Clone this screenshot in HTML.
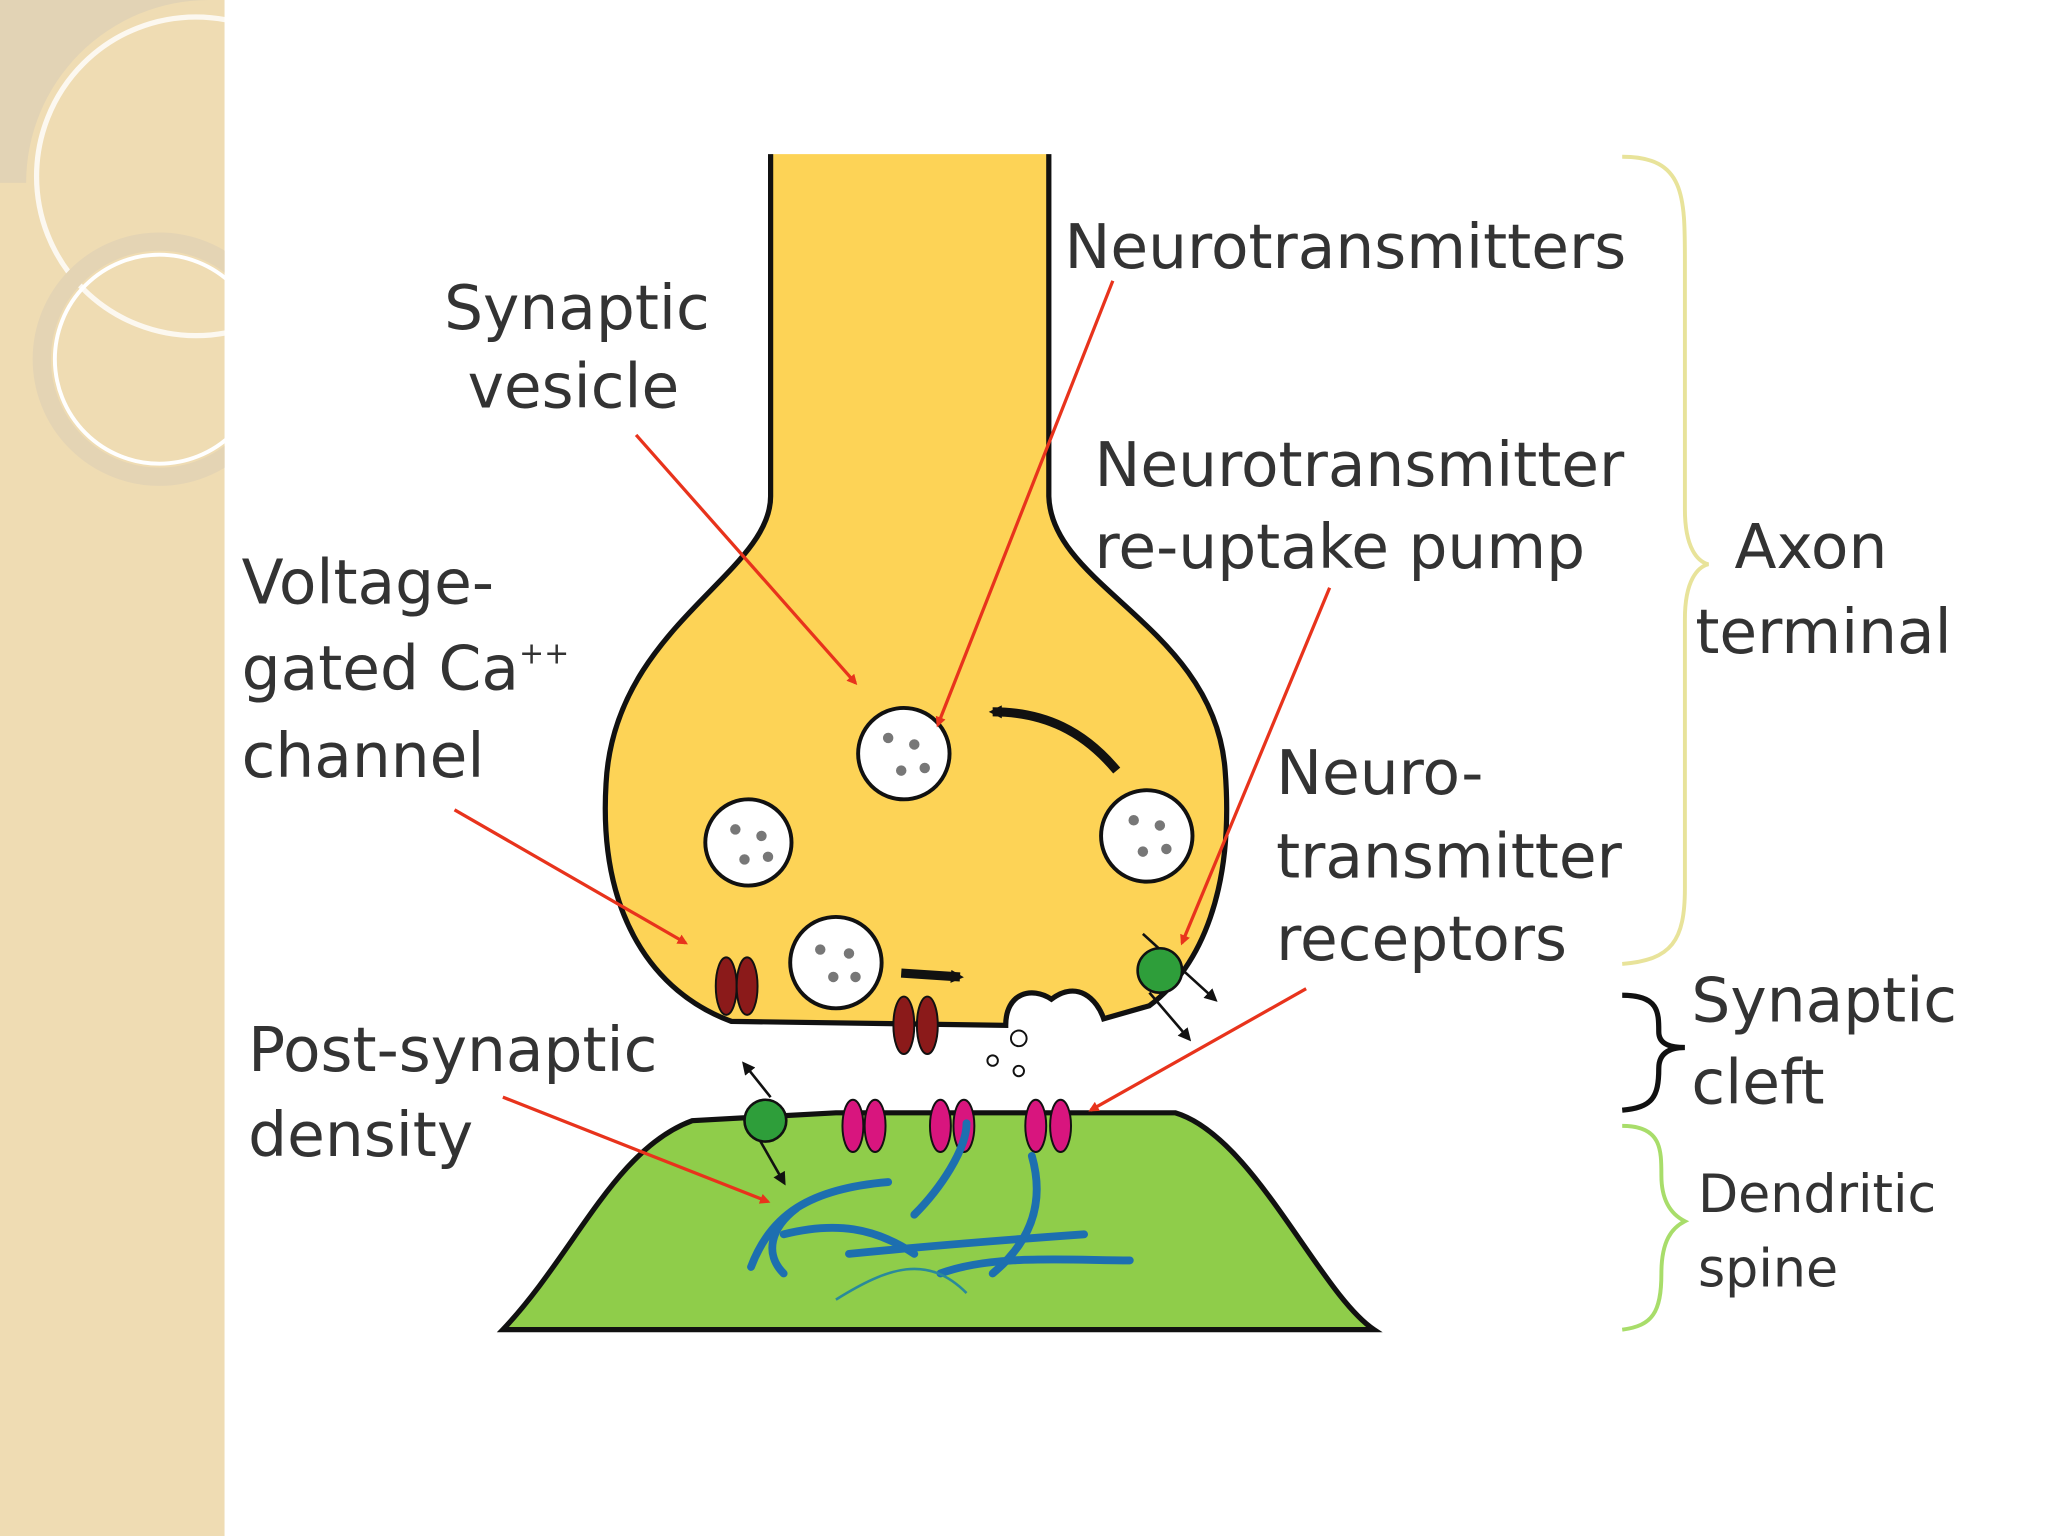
<!DOCTYPE html>
<html><head><style>html,body{margin:0;padding:0;background:#fff}svg{display:block}</style></head>
<body>
<svg width="2048" height="1536" viewBox="0 0 1568 1176" xmlns="http://www.w3.org/2000/svg" font-family="'DejaVu Sans','Liberation Sans',sans-serif">
<defs>
<marker id="ar" markerWidth="8" markerHeight="8" refX="6" refY="4" orient="auto" markerUnits="userSpaceOnUse"><path d="M0,0 L8,4 L0,8 z" fill="#e8331c"/></marker>
<marker id="ab" markerWidth="10" markerHeight="10" refX="7" refY="5" orient="auto" markerUnits="userSpaceOnUse"><path d="M0,0 L10,5 L0,10 z" fill="#111"/></marker>
</defs>
<rect width="1568" height="1176" fill="#fff"/>
<rect x="0" y="0" width="172" height="1176" fill="#efdcb3"/>
<path d="M0,0 H160 A140,140 0 0 0 20,140 H0 z" fill="#d9cdb6" opacity="0.6"/>
<circle cx="150" cy="135" r="122" fill="none" stroke="#fff" stroke-width="4" opacity="0.8"/>
<circle cx="122" cy="275" r="90" fill="none" stroke="#e4d4b4" stroke-width="14"/>
<circle cx="122" cy="275" r="80" fill="none" stroke="#fff" stroke-width="3"/>
<rect x="172" y="0" width="1396" height="1176" fill="#fff"/>
<!-- dendrite -->
<path d="M385,1018 C440,960 470,880 530,858 L640,852 L900,852 C960,870 1010,990 1052,1018 Z" fill="#8fcd4a" stroke="#111" stroke-width="4"/>
<!-- axon -->
<path d="M590,118 L590,380 C590,440 470,480 464,600 C458,700 500,760 560,782 L770,785 C770,760 790,755 805,765 C825,750 840,765 845,780 L880,770 C920,740 945,680 938,590 C930,480 805,450 803,380 L803,118" fill="#fdd356" stroke="#111" stroke-width="4"/>
<!-- vesicles -->
<g fill="#fff" stroke="#111" stroke-width="3">
<circle cx="692" cy="577" r="35"/><circle cx="573" cy="645" r="33"/><circle cx="878" cy="640" r="35"/><circle cx="640" cy="737" r="35"/>
<circle cx="780" cy="795" r="6" stroke-width="1.5"/><circle cx="760" cy="812" r="4" stroke-width="1.5"/><circle cx="780" cy="820" r="4" stroke-width="1.5"/>
</g>
<g fill="#777"><circle cx="680" cy="565" r="4"/><circle cx="700" cy="570" r="4"/><circle cx="690" cy="590" r="4"/><circle cx="708" cy="588" r="4"/>
<circle cx="563" cy="635" r="4"/><circle cx="583" cy="640" r="4"/><circle cx="570" cy="658" r="4"/><circle cx="588" cy="656" r="4"/>
<circle cx="868" cy="628" r="4"/><circle cx="888" cy="632" r="4"/><circle cx="875" cy="652" r="4"/><circle cx="893" cy="650" r="4"/>
<circle cx="628" cy="727" r="4"/><circle cx="650" cy="730" r="4"/><circle cx="638" cy="748" r="4"/><circle cx="655" cy="748" r="4"/></g>
<!-- black arrows -->
<path d="M855,590 C830,560 800,545 760,545" fill="none" stroke="#111" stroke-width="7" marker-end="url(#ab)"/>
<path d="M690,745 L735,748" stroke="#111" stroke-width="7" marker-end="url(#ab)"/>
<line x1="875" y1="715" x2="930" y2="765" stroke="#111" stroke-width="2" marker-end="url(#ab)"/>
<line x1="880" y1="760" x2="910" y2="795" stroke="#111" stroke-width="2" marker-end="url(#ab)"/>
<line x1="590" y1="840" x2="570" y2="815" stroke="#111" stroke-width="2" marker-end="url(#ab)"/>
<line x1="580" y1="870" x2="600" y2="905" stroke="#111" stroke-width="2" marker-end="url(#ab)"/>
<!-- channels -->
<g fill="#8b1a1a" stroke="#111" stroke-width="1.5">
<ellipse cx="556" cy="755" rx="8" ry="22"/><ellipse cx="572" cy="755" rx="8" ry="22"/>
<ellipse cx="692" cy="785" rx="8" ry="22"/><ellipse cx="710" cy="785" rx="8" ry="22"/></g>
<g fill="#d8157e" stroke="#111" stroke-width="1.5">
<ellipse cx="653" cy="862" rx="8" ry="20"/><ellipse cx="670" cy="862" rx="8" ry="20"/>
<ellipse cx="720" cy="862" rx="8" ry="20"/><ellipse cx="738" cy="862" rx="8" ry="20"/>
<ellipse cx="793" cy="862" rx="8" ry="20"/><ellipse cx="812" cy="862" rx="8" ry="20"/></g>
<circle cx="888" cy="743" r="17" fill="#2e9e3a" stroke="#111" stroke-width="2"/>
<circle cx="586" cy="858" r="16" fill="#2e9e3a" stroke="#111" stroke-width="2"/>
<!-- cytoskeleton -->
<g fill="none" stroke="#1d6fb0" stroke-width="6" stroke-linecap="round">
<path d="M575,970 C590,930 620,910 680,905"/><path d="M600,945 C640,935 670,940 700,960"/>
<path d="M650,960 C700,955 760,950 830,945"/><path d="M700,930 C720,910 740,880 740,860"/>
<path d="M760,975 C790,950 800,920 790,885"/><path d="M720,975 C760,960 820,965 865,965"/>
<path d="M610,925 C590,940 585,960 600,975"/></g>
<path d="M640,995 C680,970 710,960 740,990" stroke="#2a8a9a" stroke-width="2" fill="none"/>
<!-- red pointers -->
<g stroke="#e8331c" stroke-width="2.5" fill="none" marker-end="url(#ar)">
<line x1="487" y1="333" x2="655" y2="523"/>
<line x1="852" y1="215" x2="718" y2="555"/>
<line x1="1018" y1="450" x2="905" y2="722"/>
<line x1="348" y1="620" x2="525" y2="722"/>
<line x1="1000" y1="757" x2="835" y2="850"/>
<line x1="385" y1="840" x2="588" y2="920"/></g>
<!-- braces -->
<path d="M1242,120 C1290,120 1290,150 1290,200 L1290,390 C1290,420 1300,430 1308,432 C1300,434 1290,444 1290,474 L1290,680 C1290,720 1280,735 1242,738" fill="none" stroke="#e8e39a" stroke-width="3"/>
<path d="M1242,762 C1270,762 1270,775 1270,790 C1270,800 1280,802 1290,802 C1280,802 1270,805 1270,818 C1270,840 1265,848 1242,850" fill="none" stroke="#111" stroke-width="4"/>
<path d="M1242,862 C1272,862 1272,880 1272,900 C1272,920 1280,930 1290,935 C1280,940 1272,950 1272,975 C1272,1005 1265,1015 1242,1018" fill="none" stroke="#a8dd6a" stroke-width="3"/>
<!-- labels -->
<g fill="#333" font-size="47">
<text x="815" y="205">Neurotransmitters</text>
<text x="340" y="252">Synaptic</text>
<text x="358" y="312">vesicle</text>
<text x="838" y="372">Neurotransmitter</text>
<text x="838" y="435">re-uptake pump</text>
<text x="1328" y="435">Axon</text>
<text x="1298" y="500">terminal</text>
<text x="185" y="462">Voltage-</text>
<text x="185" y="528">gated Ca<tspan font-size="23" dy="-20">++</tspan></text>
<text x="185" y="595">channel</text>
<text x="977" y="608">Neuro-</text>
<text x="977" y="672">transmitter</text>
<text x="977" y="735">receptors</text>
<text x="1295" y="782">Synaptic</text>
<text x="1295" y="845">cleft</text>
<text x="190" y="820">Post-synaptic</text>
<text x="190" y="885">density</text>
<text x="1300" y="928" font-size="40">Dendritic</text>
<text x="1300" y="985" font-size="40">spine</text>
</g>
</svg>
</body></html>
